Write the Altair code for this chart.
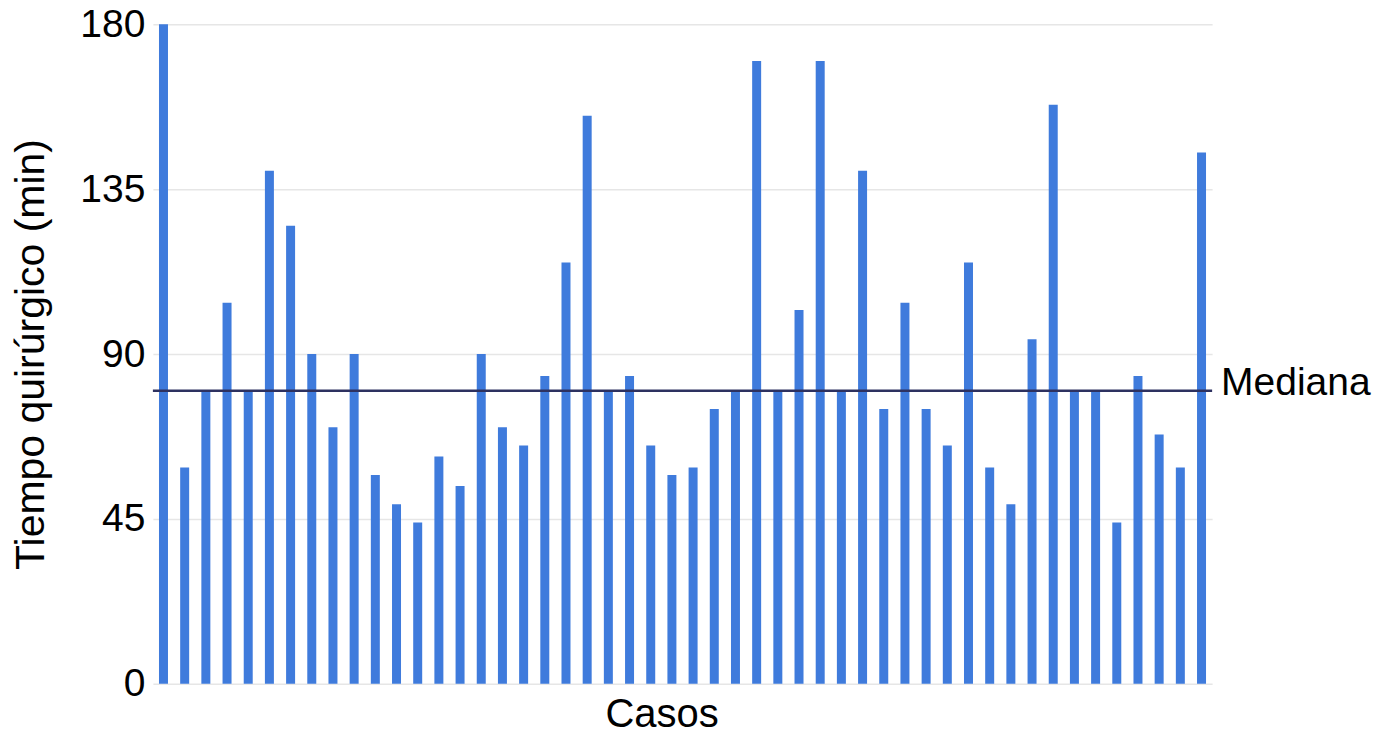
import altair as alt
import pandas as pd

casos = list(range(1, 51))
tiempo = [180, 59, 80, 104, 80, 140, 125, 90, 70, 90,
          57, 49, 44, 62, 54, 90, 70, 65, 84, 115,
          155, 80, 84, 65, 57, 59, 75, 80, 170, 80,
          102, 170, 80, 140, 75, 104, 75, 65, 115, 59,
          49, 94, 158, 80, 80, 44, 84, 68, 59, 145]
mediana = 80
y_ticks = [0, 45, 90, 135, 180]

df = pd.DataFrame({"caso": casos, "tiempo": tiempo})
med_df = pd.DataFrame({"mediana": [mediana], "label": ["Mediana"]})

FONT = "Liberation Sans"
W, H = 1060, 660

bars = alt.Chart(df).mark_bar(size=9, color="#3f7bdc").encode(
    x=alt.X("caso:O",
            scale=alt.Scale(paddingInner=0.5, paddingOuter=0.25),
            axis=alt.Axis(title="Casos", labels=False, ticks=False, domain=False,
                          grid=False, titleFontSize=40, titleFont=FONT,
                          titleFontWeight="normal", titleColor="black",
                          titlePadding=11, titleX=509)),
    y=alt.Y("tiempo:Q",
            scale=alt.Scale(domain=[0, 180], nice=False),
            axis=alt.Axis(title="Tiempo quirúrgico (min)", values=y_ticks,
                          ticks=False, domain=False, grid=True,
                          gridColor="#e6e6e6", gridWidth=1.5,
                          labelFontSize=39, labelFont=FONT, labelColor="black",
                          labelPadding=8,
                          titleFontSize=41, titleFont=FONT,
                          titleFontWeight="normal", titleColor="black",
                          titlePadding=27)),
)

rule = alt.Chart(med_df).mark_rule(color="#2d3160", strokeWidth=2.5).encode(
    y=alt.Y("mediana:Q"),
    x=alt.value(0),
    x2=alt.value(W),
)

label = alt.Chart(med_df).mark_text(
    align="left", baseline="middle", fontSize=39, font=FONT, color="black", dy=-8
).encode(
    y=alt.Y("mediana:Q"),
    x=alt.value(W + 9),
    text="label:N",
)

chart = alt.layer(bars, rule, label).properties(
    width=W, height=H,
    autosize=alt.AutoSizeParams(type="none"),
    padding={"left": 145, "top": 16, "right": 160, "bottom": 56},
).configure_view(stroke=None)

chart.save("out.html", embed_options={"renderer": "svg", "actions": False})
